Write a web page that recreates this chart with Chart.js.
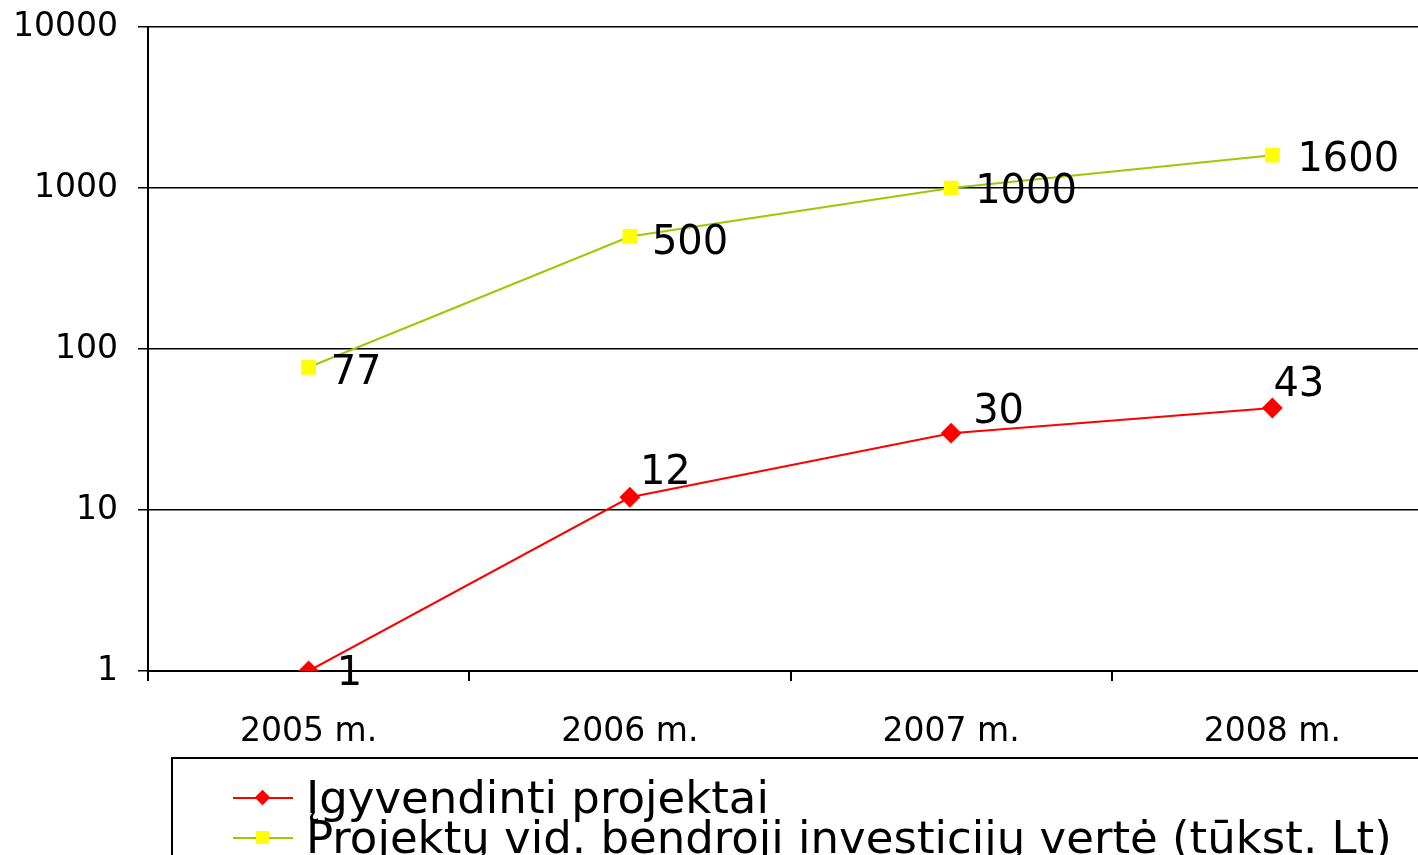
<!DOCTYPE html>
<html lang="lt">
<head>
<meta charset="UTF-8">
<title>Projektai</title>
<script src="https://cdn.jsdelivr.net/npm/chart.js@4.4.1/dist/chart.umd.min.js"></script>
<style>
  html, body { margin: 0; padding: 0; background: #fff; overflow: hidden; width: 1418px; height: 855px; }
  #wrap { position: relative; width: 1418px; height: 855px; }
  #c { position: absolute; left: 0; top: 0; }
  #legend {
    position: absolute; left: 171px; top: 757px; width: 1300px; height: 130px;
    border: 2px solid #000; box-sizing: border-box;
    font-family: "DejaVu Sans", sans-serif; font-size: 45px; color: #000;
  }
  .item { position: absolute; left: 60px; height: 40px; line-height: 40px; white-space: nowrap; }
  .sample { position: absolute; left: 0; top: 19px; width: 60px; height: 2px; }
  .mark { position: absolute; }
  .txt { position: absolute; left: 73px; top: 0; }
</style>
</head>
<body>
<div id="wrap">
  <canvas id="c" width="1444" height="855"></canvas>
  <div id="legend"></div>
</div>
<script>
  // dane
  const years = ['2005 m.', '2006 m.', '2007 m.', '2008 m.'];
  const igyvendinti = [1, 12, 30, 43];
  const investicijos = [77, 500, 1000, 1600];
  const yTicks = [1, 10, 100, 1000, 10000];
  const seriesNames = ['Įgyvendinti projektai', 'Projektų vid. bendroji investicijų vertė (tūkst. Lt)'];

  // label offsets (dx, dy from point) per series
  const labelOffsets = [
    [[28, 4], [10, -24], [22, -21], [1, -22]],
    [[22, 6], [22, 7], [24, 5], [25, 5]]
  ];

  const dataLabels = {
    id: 'dataLabels',
    afterDatasetsDraw(chart) {
      const ctx = chart.ctx;
      ctx.save();
      ctx.font = '40px "DejaVu Sans", sans-serif';
      ctx.fillStyle = '#000';
      ctx.textAlign = 'left';
      ctx.textBaseline = 'middle';
      chart.data.datasets.forEach((ds, i) => {
        chart.getDatasetMeta(i).data.forEach((pt, j) => {
          const off = labelOffsets[i][j];
          ctx.fillText(String(ds.data[j]), pt.x + off[0], pt.y + off[1]);
        });
      });
      ctx.restore();
    }
  };

  const ctx = document.getElementById('c').getContext('2d');
  const chart = new Chart(ctx, {
    type: 'line',
    data: {
      labels: years,
      datasets: [
        {
          label: seriesNames[0],
          data: igyvendinti,
          borderColor: '#ff0000',
          backgroundColor: '#ff0000',
          borderWidth: 2,
          pointStyle: 'rectRot',
          pointRadius: 9,
          pointBorderColor: '#ff0000',
          pointBackgroundColor: '#ff0000',
          tension: 0
        },
        {
          label: seriesNames[1],
          data: investicijos,
          borderColor: '#99cc00',
          backgroundColor: '#ffff00',
          borderWidth: 2,
          pointStyle: 'rect',
          pointRadius: 9,
          pointBorderColor: '#ffff00',
          pointBackgroundColor: '#ffff00',
          tension: 0
        }
      ]
    },
    options: {
      responsive: false,
      animation: false,
      layout: { padding: { top: 27, left: 0, right: 0, bottom: 0 } },
      plugins: { legend: { display: false }, tooltip: { enabled: false } },
      scales: {
        x: {
          offset: true,
          grid: { display: true, drawOnChartArea: false, offset: true, tickLength: 10, color: '#000', lineWidth: 2 },
          border: { display: true, color: '#000', width: 2 },
          ticks: { color: '#000', font: { family: '"DejaVu Sans", sans-serif', size: 33 }, padding: 32, maxRotation: 0 },
          afterFit: (s) => { s.height = 184; s.paddingLeft = 0; s.paddingRight = 0; }
        },
        y: {
          type: 'logarithmic',
          min: 1,
          max: 10000,
          afterBuildTicks: (s) => { s.ticks = yTicks.map(v => ({ value: v })); },
          grid: { color: '#000', lineWidth: 1.5, tickLength: 10 },
          border: { display: true, color: '#000', width: 2 },
          ticks: {
            color: '#000',
            font: { family: '"DejaVu Sans", sans-serif', size: 33 },
            padding: 20,
            callback: (v) => String(v)
          },
          afterFit: (s) => { s.width = 148; s.paddingTop = 0; s.paddingBottom = 0; }
        }
      }
    },
    plugins: [dataLabels]
  });

  // legend
  const legend = document.getElementById('legend');
  const markers = [
    { color: '#ff0000', line: '#ff0000', shape: 'diamond' },
    { color: '#ffff00', line: '#99cc00', shape: 'square' }
  ];
  seriesNames.forEach((name, i) => {
    const item = document.createElement('div');
    item.className = 'item';
    item.style.top = (19 + i * 40) + 'px';
    const m = markers[i];
    let mark;
    if (m.shape === 'diamond') {
      mark = '<div class="mark" style="left:24px;top:14px;width:11px;height:11px;background:' + m.color + ';transform:rotate(45deg)"></div>';
    } else {
      mark = '<div class="mark" style="left:23px;top:13px;width:13px;height:13px;background:' + m.color + '"></div>';
    }
    item.innerHTML = '<div class="sample" style="background:' + m.line + '"></div>' + mark +
      '<div class="txt">' + name + '</div>';
    legend.appendChild(item);
  });
</script>
</body>
</html>
